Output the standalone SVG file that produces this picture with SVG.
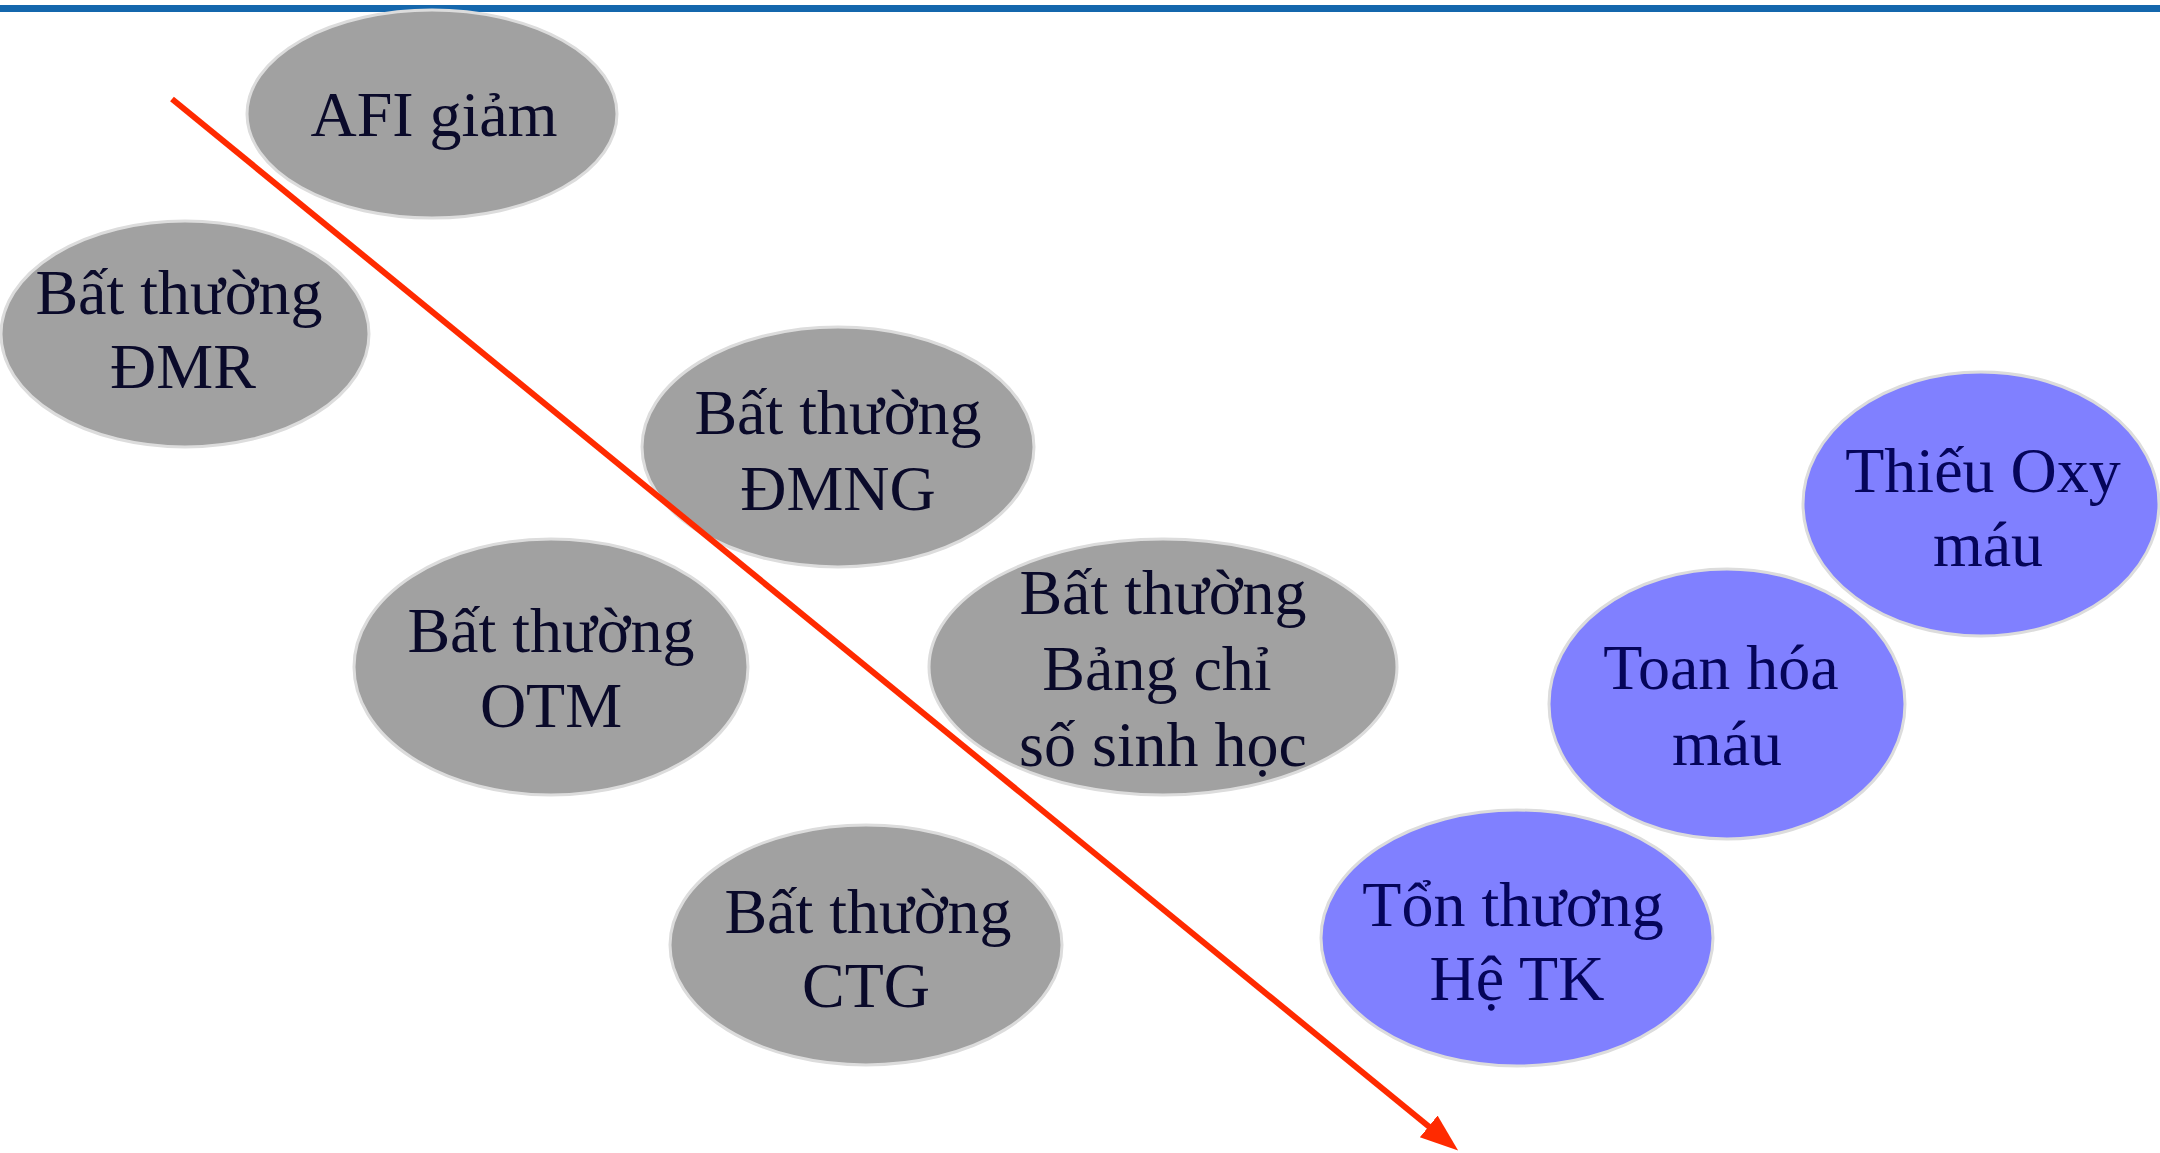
<svg xmlns="http://www.w3.org/2000/svg" width="2160" height="1153" viewBox="0 0 2160 1153">
<style>
.g{fill:#a1a1a1;stroke:#dcdcdc;stroke-width:3}
.b{fill:#8080ff;stroke:#dcdcdc;stroke-width:3}
.t{font-family:"Liberation Serif","Times New Roman",serif;font-size:64px;fill:#0a0a2a;text-anchor:middle}
.tb{font-family:"Liberation Serif","Times New Roman",serif;font-size:64px;fill:#05055a;text-anchor:middle}
</style>
<defs>
<marker id="ah" markerUnits="userSpaceOnUse" markerWidth="40" markerHeight="30" refX="12" refY="14" orient="auto" viewBox="0 0 40 30">
<path d="M0,0 L38,14 L0,28 z" fill="#ff2a00"/>
</marker>
</defs>
<rect x="0" y="0" width="2160" height="1153" fill="#ffffff"/>
<rect x="0" y="5" width="2160" height="7" fill="#1467ad"/>
<g id="afi"><ellipse class="g" cx="432" cy="114" rx="185" ry="104"/><text class="t" x="434" y="136">AFI giảm</text></g>
<g id="dmr"><ellipse class="g" cx="185" cy="334" rx="184" ry="113"/><text class="t" x="179" y="314">Bất thường</text><text class="t" x="183" y="388">ĐMR</text></g>
<g id="dmng"><ellipse class="g" cx="838" cy="447" rx="196" ry="120"/><text class="t" x="838" y="434">Bất thường</text><text class="t" x="838" y="510">ĐMNG</text></g>
<g id="otm"><ellipse class="g" cx="551" cy="667" rx="197" ry="128"/><text class="t" x="551" y="652">Bất thường</text><text class="t" x="551" y="727">OTM</text></g>
<g id="bcs"><ellipse class="g" cx="1163" cy="667" rx="234" ry="128"/><text class="t" x="1163" y="614">Bất thường</text><text class="t" x="1157" y="690">Bảng chỉ</text><text class="t" x="1163" y="766">số sinh học</text></g>
<g id="ctg"><ellipse class="g" cx="866" cy="945" rx="196" ry="120"/><text class="t" x="868" y="933">Bất thường</text><text class="t" x="866" y="1007">CTG</text></g>
<g id="oxy"><ellipse class="b" cx="1981" cy="504" rx="178" ry="132"/><text class="tb" x="1983" y="492">Thiếu Oxy</text><text class="tb" x="1988" y="566">máu</text></g>
<g id="toan"><ellipse class="b" cx="1727" cy="704" rx="178" ry="135"/><text class="tb" x="1721" y="689">Toan hóa</text><text class="tb" x="1727" y="765">máu</text></g>
<g id="ton"><ellipse class="b" cx="1517" cy="938" rx="196" ry="128"/><text class="tb" x="1513" y="926">Tổn thương</text><text class="tb" x="1517" y="1000">Hệ TK</text></g>
<g id="connectors">
<line x1="172" y1="99" x2="1438" y2="1134" stroke="#ff2a00" stroke-width="6" marker-end="url(#ah)"/>
</g>
</svg>
